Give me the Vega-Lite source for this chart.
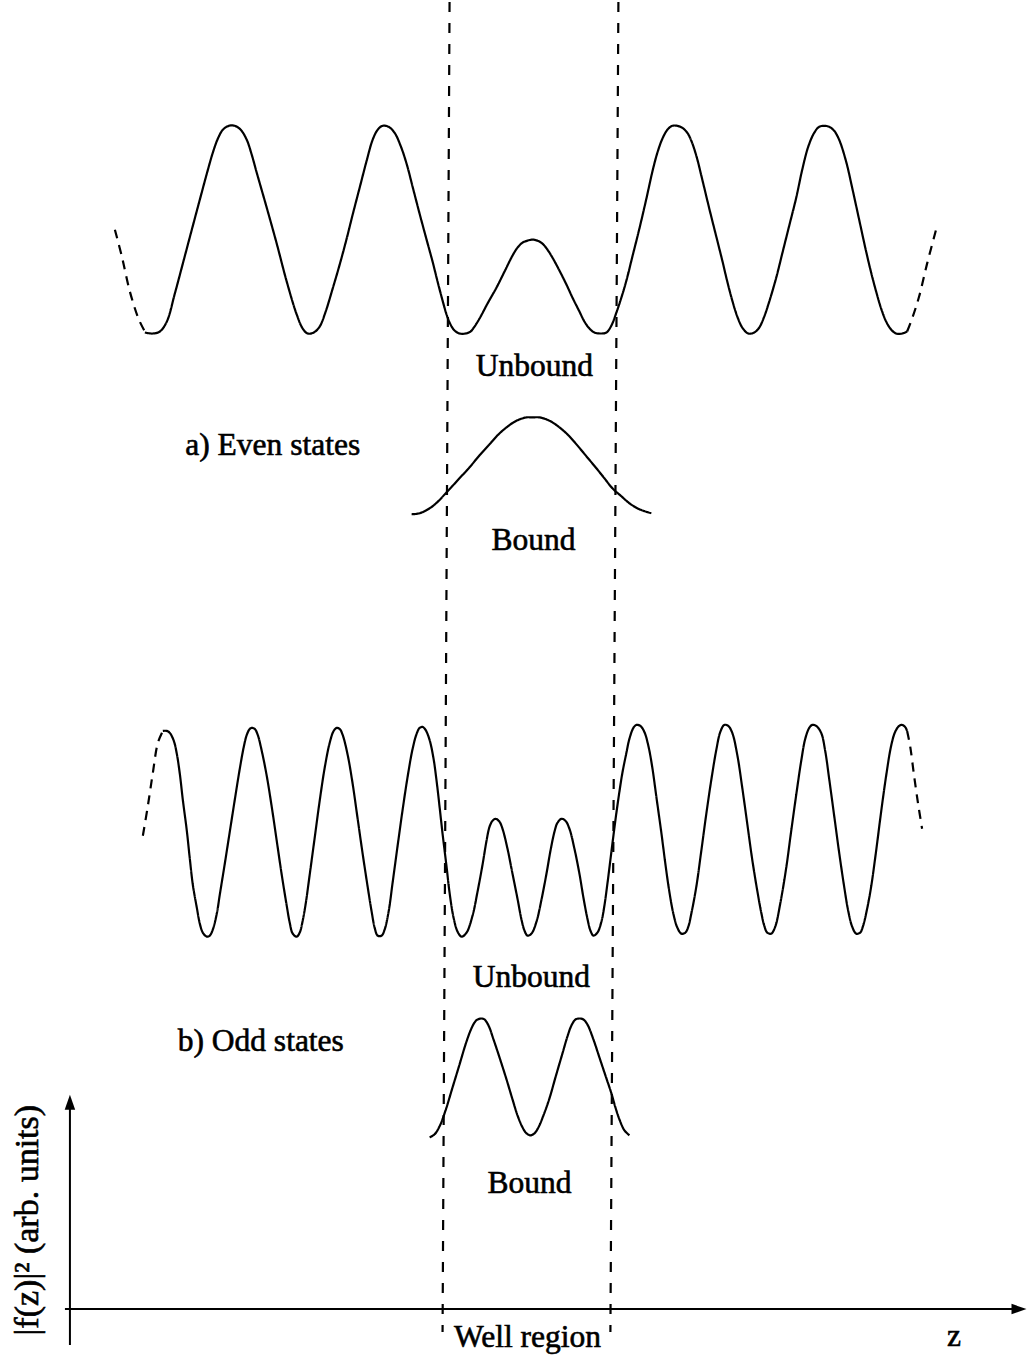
{
  "$schema": "https://vega.github.io/schema/vega-lite/v6.json",
  "width": 1027,
  "height": 1356,
  "padding": 0,
  "autosize": {"type": "fit", "contains": "padding"},
  "background": "white",
  "config": {"view": {"stroke": null}},
  "datasets": {
    "curves": [
      {"c": "eu_l", "s": "edge", "z": 115, "y": 228}, {"c": "eu_l", "s": "edge", "z": 122, "y": 255}, {"c": "eu_l", "s": "edge", "z": 130, "y": 290}, {"c": "eu_l", "s": "edge", "z": 139, "y": 318}, {"c": "eu_l", "s": "edge", "z": 145, "y": 330},

      {"c": "eu", "s": "solid", "z": 145, "y": 331}, {"c": "eu", "s": "solid", "z": 153, "y": 332}, {"c": "eu", "s": "solid", "z": 160, "y": 330}, {"c": "eu", "s": "solid", "z": 167, "y": 320}, {"c": "eu", "s": "solid", "z": 175, "y": 292}, {"c": "eu", "s": "solid", "z": 183, "y": 262}, {"c": "eu", "s": "solid", "z": 192, "y": 228}, {"c": "eu", "s": "solid", "z": 200, "y": 198}, {"c": "eu", "s": "solid", "z": 207, "y": 172}, {"c": "eu", "s": "solid", "z": 213, "y": 151}, {"c": "eu", "s": "solid", "z": 218, "y": 137}, {"c": "eu", "s": "solid", "z": 223, "y": 128}, {"c": "eu", "s": "solid", "z": 229, "y": 124}, {"c": "eu", "s": "solid", "z": 235, "y": 124}, {"c": "eu", "s": "solid", "z": 241, "y": 128}, {"c": "eu", "s": "solid", "z": 247, "y": 138}, {"c": "eu", "s": "solid", "z": 252, "y": 153}, {"c": "eu", "s": "solid", "z": 257, "y": 171}, {"c": "eu", "s": "solid", "z": 267, "y": 206}, {"c": "eu", "s": "solid", "z": 277, "y": 242}, {"c": "eu", "s": "solid", "z": 287, "y": 280}, {"c": "eu", "s": "solid", "z": 297, "y": 313}, {"c": "eu", "s": "solid", "z": 303, "y": 327}, {"c": "eu", "s": "solid", "z": 308, "y": 332}, {"c": "eu", "s": "solid", "z": 314, "y": 331}, {"c": "eu", "s": "solid", "z": 320, "y": 325}, {"c": "eu", "s": "solid", "z": 326, "y": 310}, {"c": "eu", "s": "solid", "z": 333, "y": 287}, {"c": "eu", "s": "solid", "z": 340, "y": 263}, {"c": "eu", "s": "solid", "z": 347, "y": 237}, {"c": "eu", "s": "solid", "z": 353, "y": 213}, {"c": "eu", "s": "solid", "z": 360, "y": 186}, {"c": "eu", "s": "solid", "z": 367, "y": 159}, {"c": "eu", "s": "solid", "z": 373, "y": 138}, {"c": "eu", "s": "solid", "z": 378, "y": 128}, {"c": "eu", "s": "solid", "z": 383, "y": 124}, {"c": "eu", "s": "solid", "z": 389, "y": 125}, {"c": "eu", "s": "solid", "z": 395, "y": 131}, {"c": "eu", "s": "solid", "z": 401, "y": 144}, {"c": "eu", "s": "solid", "z": 407, "y": 162}, {"c": "eu", "s": "solid", "z": 413, "y": 185}, {"c": "eu", "s": "solid", "z": 420, "y": 212}, {"c": "eu", "s": "solid", "z": 427, "y": 238}, {"c": "eu", "s": "solid", "z": 433, "y": 260}, {"c": "eu", "s": "solid", "z": 438, "y": 280}, {"c": "eu", "s": "solid", "z": 443, "y": 299}, {"c": "eu", "s": "solid", "z": 447, "y": 313}, {"c": "eu", "s": "solid", "z": 451, "y": 323}, {"c": "eu", "s": "solid", "z": 455, "y": 329}, {"c": "eu", "s": "solid", "z": 460, "y": 332}, {"c": "eu", "s": "solid", "z": 466, "y": 332}, {"c": "eu", "s": "solid", "z": 471, "y": 330}, {"c": "eu", "s": "solid", "z": 475, "y": 325}, {"c": "eu", "s": "solid", "z": 480, "y": 317}, {"c": "eu", "s": "solid", "z": 488, "y": 302}, {"c": "eu", "s": "solid", "z": 497, "y": 286}, {"c": "eu", "s": "solid", "z": 505, "y": 270}, {"c": "eu", "s": "solid", "z": 513, "y": 254}, {"c": "eu", "s": "solid", "z": 518, "y": 246}, {"c": "eu", "s": "solid", "z": 523, "y": 241}, {"c": "eu", "s": "solid", "z": 528, "y": 239}, {"c": "eu", "s": "solid", "z": 533, "y": 238}, {"c": "eu", "s": "solid", "z": 538, "y": 239}, {"c": "eu", "s": "solid", "z": 543, "y": 242}, {"c": "eu", "s": "solid", "z": 548, "y": 248}, {"c": "eu", "s": "solid", "z": 553, "y": 256}, {"c": "eu", "s": "solid", "z": 560, "y": 269}, {"c": "eu", "s": "solid", "z": 567, "y": 283}, {"c": "eu", "s": "solid", "z": 573, "y": 296}, {"c": "eu", "s": "solid", "z": 580, "y": 310}, {"c": "eu", "s": "solid", "z": 585, "y": 320}, {"c": "eu", "s": "solid", "z": 590, "y": 327}, {"c": "eu", "s": "solid", "z": 595, "y": 331}, {"c": "eu", "s": "solid", "z": 601, "y": 332}, {"c": "eu", "s": "solid", "z": 607, "y": 331}, {"c": "eu", "s": "solid", "z": 612, "y": 324}, {"c": "eu", "s": "solid", "z": 617, "y": 311}, {"c": "eu", "s": "solid", "z": 622, "y": 296}, {"c": "eu", "s": "solid", "z": 627, "y": 279}, {"c": "eu", "s": "solid", "z": 633, "y": 255}, {"c": "eu", "s": "solid", "z": 640, "y": 227}, {"c": "eu", "s": "solid", "z": 647, "y": 197}, {"c": "eu", "s": "solid", "z": 653, "y": 170}, {"c": "eu", "s": "solid", "z": 658, "y": 151}, {"c": "eu", "s": "solid", "z": 663, "y": 137}, {"c": "eu", "s": "solid", "z": 668, "y": 128}, {"c": "eu", "s": "solid", "z": 673, "y": 124}, {"c": "eu", "s": "solid", "z": 678, "y": 124}, {"c": "eu", "s": "solid", "z": 683, "y": 126}, {"c": "eu", "s": "solid", "z": 688, "y": 131}, {"c": "eu", "s": "solid", "z": 692, "y": 139}, {"c": "eu", "s": "solid", "z": 697, "y": 154}, {"c": "eu", "s": "solid", "z": 703, "y": 178}, {"c": "eu", "s": "solid", "z": 710, "y": 207}, {"c": "eu", "s": "solid", "z": 717, "y": 235}, {"c": "eu", "s": "solid", "z": 723, "y": 259}, {"c": "eu", "s": "solid", "z": 728, "y": 280}, {"c": "eu", "s": "solid", "z": 733, "y": 299}, {"c": "eu", "s": "solid", "z": 738, "y": 315}, {"c": "eu", "s": "solid", "z": 743, "y": 326}, {"c": "eu", "s": "solid", "z": 749, "y": 332}, {"c": "eu", "s": "solid", "z": 755, "y": 331}, {"c": "eu", "s": "solid", "z": 760, "y": 326}, {"c": "eu", "s": "solid", "z": 765, "y": 315}, {"c": "eu", "s": "solid", "z": 770, "y": 300}, {"c": "eu", "s": "solid", "z": 777, "y": 276}, {"c": "eu", "s": "solid", "z": 783, "y": 252}, {"c": "eu", "s": "solid", "z": 790, "y": 224}, {"c": "eu", "s": "solid", "z": 797, "y": 196}, {"c": "eu", "s": "solid", "z": 803, "y": 168}, {"c": "eu", "s": "solid", "z": 809, "y": 145}, {"c": "eu", "s": "solid", "z": 815, "y": 131}, {"c": "eu", "s": "solid", "z": 820, "y": 125}, {"c": "eu", "s": "solid", "z": 825, "y": 124}, {"c": "eu", "s": "solid", "z": 830, "y": 125}, {"c": "eu", "s": "solid", "z": 835, "y": 129}, {"c": "eu", "s": "solid", "z": 840, "y": 138}, {"c": "eu", "s": "solid", "z": 847, "y": 160}, {"c": "eu", "s": "solid", "z": 853, "y": 186}, {"c": "eu", "s": "solid", "z": 860, "y": 218}, {"c": "eu", "s": "solid", "z": 867, "y": 250}, {"c": "eu", "s": "solid", "z": 872, "y": 271}, {"c": "eu", "s": "solid", "z": 877, "y": 290}, {"c": "eu", "s": "solid", "z": 882, "y": 307}, {"c": "eu", "s": "solid", "z": 887, "y": 320}, {"c": "eu", "s": "solid", "z": 892, "y": 328}, {"c": "eu", "s": "solid", "z": 897, "y": 332}, {"c": "eu", "s": "solid", "z": 903, "y": 332}, {"c": "eu", "s": "solid", "z": 908, "y": 330},

      {"c": "eu_r", "s": "edge", "z": 908, "y": 330}, {"c": "eu_r", "s": "edge", "z": 913, "y": 317}, {"c": "eu_r", "s": "edge", "z": 920, "y": 295}, {"c": "eu_r", "s": "edge", "z": 928, "y": 262}, {"c": "eu_r", "s": "edge", "z": 937, "y": 228},

      {"c": "eb", "s": "solid", "z": 412, "y": 513}, {"c": "eb", "s": "solid", "z": 420, "y": 512}, {"c": "eb", "s": "solid", "z": 433, "y": 505}, {"c": "eb", "s": "solid", "z": 448, "y": 490}, {"c": "eb", "s": "solid", "z": 459, "y": 478}, {"c": "eb", "s": "solid", "z": 470, "y": 466}, {"c": "eb", "s": "solid", "z": 480, "y": 454}, {"c": "eb", "s": "solid", "z": 490, "y": 443}, {"c": "eb", "s": "solid", "z": 499, "y": 433}, {"c": "eb", "s": "solid", "z": 507, "y": 426}, {"c": "eb", "s": "solid", "z": 514, "y": 421}, {"c": "eb", "s": "solid", "z": 520, "y": 418}, {"c": "eb", "s": "solid", "z": 527, "y": 416}, {"c": "eb", "s": "solid", "z": 533, "y": 416}, {"c": "eb", "s": "solid", "z": 540, "y": 416}, {"c": "eb", "s": "solid", "z": 547, "y": 418}, {"c": "eb", "s": "solid", "z": 553, "y": 421}, {"c": "eb", "s": "solid", "z": 560, "y": 426}, {"c": "eb", "s": "solid", "z": 568, "y": 433}, {"c": "eb", "s": "solid", "z": 577, "y": 443}, {"c": "eb", "s": "solid", "z": 587, "y": 455}, {"c": "eb", "s": "solid", "z": 597, "y": 467}, {"c": "eb", "s": "solid", "z": 605, "y": 477}, {"c": "eb", "s": "solid", "z": 613, "y": 487}, {"c": "eb", "s": "solid", "z": 622, "y": 495}, {"c": "eb", "s": "solid", "z": 630, "y": 502}, {"c": "eb", "s": "solid", "z": 640, "y": 508}, {"c": "eb", "s": "solid", "z": 652, "y": 512},

      {"c": "ou_l", "s": "edge", "z": 143, "y": 835}, {"c": "ou_l", "s": "edge", "z": 148, "y": 805}, {"c": "ou_l", "s": "edge", "z": 153, "y": 772}, {"c": "ou_l", "s": "edge", "z": 158, "y": 742}, {"c": "ou_l", "s": "edge", "z": 163, "y": 730},

      {"c": "ou", "s": "solid", "z": 163, "y": 730}, {"c": "ou", "s": "solid", "z": 167, "y": 730}, {"c": "ou", "s": "solid", "z": 170, "y": 732}, {"c": "ou", "s": "solid", "z": 174, "y": 740}, {"c": "ou", "s": "solid", "z": 177, "y": 753}, {"c": "ou", "s": "solid", "z": 180, "y": 773}, {"c": "ou", "s": "solid", "z": 183, "y": 799}, {"c": "ou", "s": "solid", "z": 187, "y": 830}, {"c": "ou", "s": "solid", "z": 190, "y": 858}, {"c": "ou", "s": "solid", "z": 193, "y": 884}, {"c": "ou", "s": "solid", "z": 197, "y": 907}, {"c": "ou", "s": "solid", "z": 200, "y": 923}, {"c": "ou", "s": "solid", "z": 203, "y": 932}, {"c": "ou", "s": "solid", "z": 207, "y": 936}, {"c": "ou", "s": "solid", "z": 210, "y": 935}, {"c": "ou", "s": "solid", "z": 213, "y": 929}, {"c": "ou", "s": "solid", "z": 217, "y": 913}, {"c": "ou", "s": "solid", "z": 220, "y": 894}, {"c": "ou", "s": "solid", "z": 225, "y": 863}, {"c": "ou", "s": "solid", "z": 230, "y": 831}, {"c": "ou", "s": "solid", "z": 235, "y": 799}, {"c": "ou", "s": "solid", "z": 240, "y": 768}, {"c": "ou", "s": "solid", "z": 244, "y": 746}, {"c": "ou", "s": "solid", "z": 247, "y": 734}, {"c": "ou", "s": "solid", "z": 250, "y": 728}, {"c": "ou", "s": "solid", "z": 252, "y": 727}, {"c": "ou", "s": "solid", "z": 255, "y": 728}, {"c": "ou", "s": "solid", "z": 258, "y": 734}, {"c": "ou", "s": "solid", "z": 262, "y": 750}, {"c": "ou", "s": "solid", "z": 267, "y": 775}, {"c": "ou", "s": "solid", "z": 272, "y": 806}, {"c": "ou", "s": "solid", "z": 277, "y": 840}, {"c": "ou", "s": "solid", "z": 282, "y": 874}, {"c": "ou", "s": "solid", "z": 287, "y": 905}, {"c": "ou", "s": "solid", "z": 290, "y": 922}, {"c": "ou", "s": "solid", "z": 293, "y": 933}, {"c": "ou", "s": "solid", "z": 297, "y": 936}, {"c": "ou", "s": "solid", "z": 300, "y": 932}, {"c": "ou", "s": "solid", "z": 303, "y": 920}, {"c": "ou", "s": "solid", "z": 306, "y": 903}, {"c": "ou", "s": "solid", "z": 310, "y": 874}, {"c": "ou", "s": "solid", "z": 315, "y": 837}, {"c": "ou", "s": "solid", "z": 320, "y": 800}, {"c": "ou", "s": "solid", "z": 325, "y": 767}, {"c": "ou", "s": "solid", "z": 330, "y": 742}, {"c": "ou", "s": "solid", "z": 334, "y": 730}, {"c": "ou", "s": "solid", "z": 337, "y": 727}, {"c": "ou", "s": "solid", "z": 340, "y": 728}, {"c": "ou", "s": "solid", "z": 343, "y": 734}, {"c": "ou", "s": "solid", "z": 348, "y": 754}, {"c": "ou", "s": "solid", "z": 353, "y": 783}, {"c": "ou", "s": "solid", "z": 358, "y": 818}, {"c": "ou", "s": "solid", "z": 363, "y": 853}, {"c": "ou", "s": "solid", "z": 368, "y": 886}, {"c": "ou", "s": "solid", "z": 372, "y": 911}, {"c": "ou", "s": "solid", "z": 375, "y": 927}, {"c": "ou", "s": "solid", "z": 378, "y": 935}, {"c": "ou", "s": "solid", "z": 382, "y": 935}, {"c": "ou", "s": "solid", "z": 385, "y": 929}, {"c": "ou", "s": "solid", "z": 389, "y": 911}, {"c": "ou", "s": "solid", "z": 393, "y": 882}, {"c": "ou", "s": "solid", "z": 398, "y": 845}, {"c": "ou", "s": "solid", "z": 403, "y": 809}, {"c": "ou", "s": "solid", "z": 408, "y": 776}, {"c": "ou", "s": "solid", "z": 413, "y": 748}, {"c": "ou", "s": "solid", "z": 417, "y": 733}, {"c": "ou", "s": "solid", "z": 420, "y": 727}, {"c": "ou", "s": "solid", "z": 423, "y": 726}, {"c": "ou", "s": "solid", "z": 426, "y": 729}, {"c": "ou", "s": "solid", "z": 430, "y": 739}, {"c": "ou", "s": "solid", "z": 434, "y": 758}, {"c": "ou", "s": "solid", "z": 437, "y": 780}, {"c": "ou", "s": "solid", "z": 440, "y": 806}, {"c": "ou", "s": "solid", "z": 443, "y": 833}, {"c": "ou", "s": "solid", "z": 447, "y": 866}, {"c": "ou", "s": "solid", "z": 450, "y": 892}, {"c": "ou", "s": "solid", "z": 454, "y": 917}, {"c": "ou", "s": "solid", "z": 458, "y": 931}, {"c": "ou", "s": "solid", "z": 462, "y": 936}, {"c": "ou", "s": "solid", "z": 467, "y": 932}, {"c": "ou", "s": "solid", "z": 473, "y": 915}, {"c": "ou", "s": "solid", "z": 478, "y": 891}, {"c": "ou", "s": "solid", "z": 483, "y": 864}, {"c": "ou", "s": "solid", "z": 487, "y": 840}, {"c": "ou", "s": "solid", "z": 490, "y": 826}, {"c": "ou", "s": "solid", "z": 493, "y": 820}, {"c": "ou", "s": "solid", "z": 496, "y": 818}, {"c": "ou", "s": "solid", "z": 500, "y": 821}, {"c": "ou", "s": "solid", "z": 503, "y": 828}, {"c": "ou", "s": "solid", "z": 508, "y": 848}, {"c": "ou", "s": "solid", "z": 513, "y": 873}, {"c": "ou", "s": "solid", "z": 518, "y": 898}, {"c": "ou", "s": "solid", "z": 522, "y": 919}, {"c": "ou", "s": "solid", "z": 525, "y": 930}, {"c": "ou", "s": "solid", "z": 528, "y": 935}, {"c": "ou", "s": "solid", "z": 532, "y": 933}, {"c": "ou", "s": "solid", "z": 537, "y": 921}, {"c": "ou", "s": "solid", "z": 542, "y": 899}, {"c": "ou", "s": "solid", "z": 547, "y": 873}, {"c": "ou", "s": "solid", "z": 551, "y": 850}, {"c": "ou", "s": "solid", "z": 555, "y": 831}, {"c": "ou", "s": "solid", "z": 558, "y": 822}, {"c": "ou", "s": "solid", "z": 562, "y": 818}, {"c": "ou", "s": "solid", "z": 566, "y": 820}, {"c": "ou", "s": "solid", "z": 570, "y": 828}, {"c": "ou", "s": "solid", "z": 575, "y": 848}, {"c": "ou", "s": "solid", "z": 580, "y": 873}, {"c": "ou", "s": "solid", "z": 584, "y": 897}, {"c": "ou", "s": "solid", "z": 588, "y": 918}, {"c": "ou", "s": "solid", "z": 591, "y": 930}, {"c": "ou", "s": "solid", "z": 594, "y": 935}, {"c": "ou", "s": "solid", "z": 598, "y": 932}, {"c": "ou", "s": "solid", "z": 602, "y": 921}, {"c": "ou", "s": "solid", "z": 605, "y": 905}, {"c": "ou", "s": "solid", "z": 608, "y": 883}, {"c": "ou", "s": "solid", "z": 611, "y": 859}, {"c": "ou", "s": "solid", "z": 614, "y": 835}, {"c": "ou", "s": "solid", "z": 617, "y": 812}, {"c": "ou", "s": "solid", "z": 620, "y": 791}, {"c": "ou", "s": "solid", "z": 623, "y": 772}, {"c": "ou", "s": "solid", "z": 627, "y": 752}, {"c": "ou", "s": "solid", "z": 630, "y": 738}, {"c": "ou", "s": "solid", "z": 634, "y": 727}, {"c": "ou", "s": "solid", "z": 637, "y": 724}, {"c": "ou", "s": "solid", "z": 641, "y": 725}, {"c": "ou", "s": "solid", "z": 645, "y": 731}, {"c": "ou", "s": "solid", "z": 649, "y": 745}, {"c": "ou", "s": "solid", "z": 653, "y": 767}, {"c": "ou", "s": "solid", "z": 657, "y": 796}, {"c": "ou", "s": "solid", "z": 662, "y": 832}, {"c": "ou", "s": "solid", "z": 666, "y": 863}, {"c": "ou", "s": "solid", "z": 670, "y": 891}, {"c": "ou", "s": "solid", "z": 674, "y": 913}, {"c": "ou", "s": "solid", "z": 678, "y": 927}, {"c": "ou", "s": "solid", "z": 682, "y": 933}, {"c": "ou", "s": "solid", "z": 686, "y": 932}, {"c": "ou", "s": "solid", "z": 689, "y": 926}, {"c": "ou", "s": "solid", "z": 692, "y": 913}, {"c": "ou", "s": "solid", "z": 697, "y": 886}, {"c": "ou", "s": "solid", "z": 702, "y": 850}, {"c": "ou", "s": "solid", "z": 707, "y": 813}, {"c": "ou", "s": "solid", "z": 712, "y": 779}, {"c": "ou", "s": "solid", "z": 717, "y": 749}, {"c": "ou", "s": "solid", "z": 721, "y": 731}, {"c": "ou", "s": "solid", "z": 725, "y": 724}, {"c": "ou", "s": "solid", "z": 729, "y": 725}, {"c": "ou", "s": "solid", "z": 733, "y": 732}, {"c": "ou", "s": "solid", "z": 738, "y": 754}, {"c": "ou", "s": "solid", "z": 743, "y": 787}, {"c": "ou", "s": "solid", "z": 748, "y": 823}, {"c": "ou", "s": "solid", "z": 753, "y": 859}, {"c": "ou", "s": "solid", "z": 758, "y": 890}, {"c": "ou", "s": "solid", "z": 762, "y": 912}, {"c": "ou", "s": "solid", "z": 765, "y": 925}, {"c": "ou", "s": "solid", "z": 768, "y": 932}, {"c": "ou", "s": "solid", "z": 772, "y": 933}, {"c": "ou", "s": "solid", "z": 776, "y": 926}, {"c": "ou", "s": "solid", "z": 781, "y": 903}, {"c": "ou", "s": "solid", "z": 787, "y": 867}, {"c": "ou", "s": "solid", "z": 792, "y": 830}, {"c": "ou", "s": "solid", "z": 797, "y": 794}, {"c": "ou", "s": "solid", "z": 802, "y": 760}, {"c": "ou", "s": "solid", "z": 806, "y": 738}, {"c": "ou", "s": "solid", "z": 810, "y": 727}, {"c": "ou", "s": "solid", "z": 813, "y": 724}, {"c": "ou", "s": "solid", "z": 817, "y": 725}, {"c": "ou", "s": "solid", "z": 822, "y": 732}, {"c": "ou", "s": "solid", "z": 826, "y": 750}, {"c": "ou", "s": "solid", "z": 830, "y": 778}, {"c": "ou", "s": "solid", "z": 835, "y": 815}, {"c": "ou", "s": "solid", "z": 840, "y": 852}, {"c": "ou", "s": "solid", "z": 845, "y": 886}, {"c": "ou", "s": "solid", "z": 849, "y": 910}, {"c": "ou", "s": "solid", "z": 853, "y": 926}, {"c": "ou", "s": "solid", "z": 857, "y": 933}, {"c": "ou", "s": "solid", "z": 861, "y": 932}, {"c": "ou", "s": "solid", "z": 864, "y": 925}, {"c": "ou", "s": "solid", "z": 868, "y": 908}, {"c": "ou", "s": "solid", "z": 872, "y": 886}, {"c": "ou", "s": "solid", "z": 877, "y": 850}, {"c": "ou", "s": "solid", "z": 882, "y": 811}, {"c": "ou", "s": "solid", "z": 887, "y": 775}, {"c": "ou", "s": "solid", "z": 892, "y": 745}, {"c": "ou", "s": "solid", "z": 896, "y": 731}, {"c": "ou", "s": "solid", "z": 900, "y": 725}, {"c": "ou", "s": "solid", "z": 903, "y": 724}, {"c": "ou", "s": "solid", "z": 906, "y": 726}, {"c": "ou", "s": "solid", "z": 908, "y": 730},

      {"c": "ou_r", "s": "edge", "z": 908, "y": 730}, {"c": "ou_r", "s": "edge", "z": 911, "y": 745}, {"c": "ou_r", "s": "edge", "z": 915, "y": 775}, {"c": "ou_r", "s": "edge", "z": 919, "y": 803}, {"c": "ou_r", "s": "edge", "z": 923, "y": 828},

      {"c": "ob", "s": "solid", "z": 430, "y": 1137}, {"c": "ob", "s": "solid", "z": 435, "y": 1134}, {"c": "ob", "s": "solid", "z": 440, "y": 1126}, {"c": "ob", "s": "solid", "z": 446, "y": 1110}, {"c": "ob", "s": "solid", "z": 453, "y": 1087}, {"c": "ob", "s": "solid", "z": 460, "y": 1064}, {"c": "ob", "s": "solid", "z": 466, "y": 1044}, {"c": "ob", "s": "solid", "z": 471, "y": 1030}, {"c": "ob", "s": "solid", "z": 475, "y": 1022}, {"c": "ob", "s": "solid", "z": 478, "y": 1019}, {"c": "ob", "s": "solid", "z": 482, "y": 1018}, {"c": "ob", "s": "solid", "z": 485, "y": 1019}, {"c": "ob", "s": "solid", "z": 489, "y": 1025}, {"c": "ob", "s": "solid", "z": 494, "y": 1039}, {"c": "ob", "s": "solid", "z": 500, "y": 1057}, {"c": "ob", "s": "solid", "z": 507, "y": 1079}, {"c": "ob", "s": "solid", "z": 513, "y": 1099}, {"c": "ob", "s": "solid", "z": 518, "y": 1115}, {"c": "ob", "s": "solid", "z": 523, "y": 1127}, {"c": "ob", "s": "solid", "z": 527, "y": 1133}, {"c": "ob", "s": "solid", "z": 531, "y": 1135}, {"c": "ob", "s": "solid", "z": 535, "y": 1133}, {"c": "ob", "s": "solid", "z": 539, "y": 1127}, {"c": "ob", "s": "solid", "z": 544, "y": 1115}, {"c": "ob", "s": "solid", "z": 550, "y": 1098}, {"c": "ob", "s": "solid", "z": 556, "y": 1077}, {"c": "ob", "s": "solid", "z": 563, "y": 1053}, {"c": "ob", "s": "solid", "z": 568, "y": 1036}, {"c": "ob", "s": "solid", "z": 572, "y": 1025}, {"c": "ob", "s": "solid", "z": 576, "y": 1019}, {"c": "ob", "s": "solid", "z": 580, "y": 1018}, {"c": "ob", "s": "solid", "z": 584, "y": 1019}, {"c": "ob", "s": "solid", "z": 588, "y": 1024}, {"c": "ob", "s": "solid", "z": 594, "y": 1039}, {"c": "ob", "s": "solid", "z": 600, "y": 1057}, {"c": "ob", "s": "solid", "z": 606, "y": 1075}, {"c": "ob", "s": "solid", "z": 612, "y": 1093}, {"c": "ob", "s": "solid", "z": 616, "y": 1107}, {"c": "ob", "s": "solid", "z": 620, "y": 1119}, {"c": "ob", "s": "solid", "z": 625, "y": 1130}, {"c": "ob", "s": "solid", "z": 630, "y": 1135}
    ],
    "guides": [
      {"edge": "left", "z": 450, "y": 0, "z2": 443, "y2": 1332},
      {"edge": "right", "z": 619, "y": 0, "z2": 611, "y2": 1332}
    ],
    "axes": [
      {"axis": "z", "z": 65, "y": 1309, "z2": 1016, "y2": 1309},
      {"axis": "f", "z": 70, "y": 1345, "z2": 70, "y2": 1106}
    ],
    "heads": [
      {"axis": "f", "z": 70, "y": 1102},
      {"axis": "z", "z": 1020, "y": 1309}
    ],
    "labels": [
      {"t": "Unbound", "z": 535, "y": 375},
      {"t": "a) Even states", "z": 273, "y": 454},
      {"t": "Bound", "z": 534, "y": 549},
      {"t": "Unbound", "z": 532, "y": 986},
      {"t": "b) Odd states", "z": 261, "y": 1051},
      {"t": "Bound", "z": 530, "y": 1193},
      {"t": "Well region", "z": 528, "y": 1347},
      {"t": "z", "z": 955, "y": 1346}
    ],
    "ylabel": [
      {"t": "|f(z)|² (arb. units)", "z": 38, "y": 1220}
    ]
  },
  "layer": [
    {
      "data": {"name": "guides"},
      "mark": {"type": "rule", "color": "black", "strokeWidth": 2.2, "strokeDash": [10, 11]},
      "encoding": {
        "x": {"field": "z", "type": "quantitative", "scale": {"domain": [0, 1027], "nice": false, "zero": false}, "axis": null},
        "y": {"field": "y", "type": "quantitative", "scale": {"domain": [0, 1356], "nice": false, "zero": false, "reverse": true}, "axis": null},
        "x2": {"field": "z2"},
        "y2": {"field": "y2"}
      }
    },
    {
      "data": {"name": "curves"},
      "mark": {"type": "line", "color": "black", "strokeWidth": 2.2, "interpolate": "catmull-rom"},
      "encoding": {
        "x": {"field": "z", "type": "quantitative", "axis": null},
        "y": {"field": "y", "type": "quantitative", "axis": null},
        "detail": {"field": "c", "type": "nominal"},
        "strokeDash": {"field": "s", "type": "nominal", "scale": {"domain": ["solid", "edge"], "range": [[1, 0], [9, 7]]}, "legend": null}
      }
    },
    {
      "data": {"name": "axes"},
      "mark": {"type": "rule", "color": "black", "strokeWidth": 2},
      "encoding": {
        "x": {"field": "z", "type": "quantitative", "axis": null},
        "y": {"field": "y", "type": "quantitative", "axis": null},
        "x2": {"field": "z2"},
        "y2": {"field": "y2"}
      }
    },
    {
      "data": {"name": "heads"},
      "mark": {"type": "point", "filled": true, "color": "black", "opacity": 1, "size": 225},
      "encoding": {
        "x": {"field": "z", "type": "quantitative", "axis": null},
        "y": {"field": "y", "type": "quantitative", "axis": null},
        "shape": {"field": "axis", "type": "nominal", "scale": {"domain": ["f", "z"], "range": ["M0,-1L0.7,1L-0.7,1Z", "M1,0L-1,0.7L-1,-0.7Z"]}, "legend": null}
      }
    },
    {
      "data": {"name": "labels"},
      "mark": {"type": "text", "font": "Liberation Serif", "fontSize": 31.5, "align": "center", "baseline": "alphabetic", "color": "black", "stroke": "black", "strokeWidth": 0.6},
      "encoding": {
        "x": {"field": "z", "type": "quantitative", "axis": null},
        "y": {"field": "y", "type": "quantitative", "axis": null},
        "text": {"field": "t", "type": "nominal"}
      }
    },
    {
      "data": {"name": "ylabel"},
      "mark": {"type": "text", "font": "Liberation Serif", "fontSize": 34, "align": "center", "baseline": "alphabetic", "angle": 270, "color": "black", "stroke": "black", "strokeWidth": 0.6},
      "encoding": {
        "x": {"field": "z", "type": "quantitative", "axis": null},
        "y": {"field": "y", "type": "quantitative", "axis": null},
        "text": {"field": "t", "type": "nominal"}
      }
    }
  ]
}
